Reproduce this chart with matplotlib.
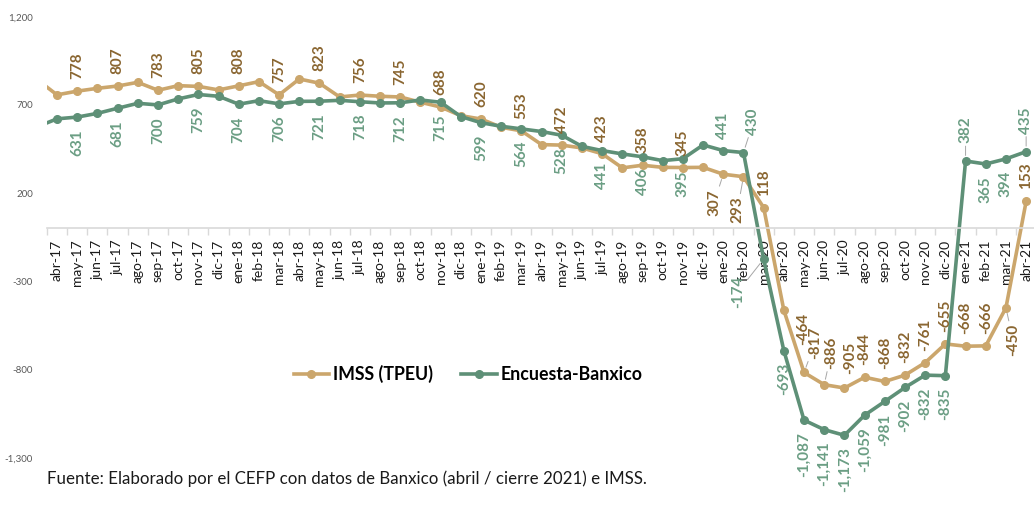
import matplotlib
matplotlib.use("Agg")
import matplotlib.pyplot as plt
from matplotlib.ticker import FuncFormatter

plt.rcParams["font.family"] = ["Lato", "DejaVu Sans"]

# first entry (mar-17) lies just left of the visible window, as in the source chart
months = ["mar-17",
          "abr-17", "may-17", "jun-17", "jul-17", "ago-17", "sep-17", "oct-17", "nov-17", "dic-17",
          "ene-18", "feb-18", "mar-18", "abr-18", "may-18", "jun-18", "jul-18", "ago-18", "sep-18",
          "oct-18", "nov-18", "dic-18",
          "ene-19", "feb-19", "mar-19", "abr-19", "may-19", "jun-19", "jul-19", "ago-19", "sep-19",
          "oct-19", "nov-19", "dic-19",
          "ene-20", "feb-20", "mar-20", "abr-20", "may-20", "jun-20", "jul-20", "ago-20", "sep-20",
          "oct-20", "nov-20", "dic-20",
          "ene-21", "feb-21", "mar-21", "abr-21"]

imss = [845,
        757, 778, 794, 807, 828, 783, 809, 805, 785,
        808, 832, 757, 847, 823, 745, 756, 749, 745, 715, 688, 639,
        620, 573, 553, 475, 472, 456, 423, 343, 358, 346, 345, 346,
        307, 293, 118, -464, -817, -886, -905, -844, -868, -832, -761, -655,
        -668, -666, -450, 153]

banxico = [575,
           621, 631, 652, 681, 709, 700, 734, 759, 749,
           704, 724, 706, 720, 721, 726, 718, 711, 712, 728, 715, 634,
           599, 579, 564, 549, 528, 465, 441, 422, 406, 384, 395, 473,
           441, 430, -174, -693, -1087, -1141, -1173, -1059, -981, -902, -832, -835,
           382, 365, 394, 435]

tan = "#CBA66C"
tan_txt = "#8A6631"
green = "#5E9077"
green_txt = "#6B9E84"

x = list(range(len(months)))

fig = plt.figure(figsize=(10.34, 5.27), dpi=100)
ax = fig.add_axes([0.04536, 0.1315, 0.9568, 0.8368])

ax.plot(x, imss, "-o", color=tan, lw=2.6, ms=5.5, label="IMSS (TPEU)")
ax.plot(x, banxico, "-o", color=green, lw=2.6, ms=5.5, label="Encuesta-Banxico")

ax.set_xlim(0.5, 49.5)
ax.set_ylim(-1300, 1200)

# labelled points: every other month until nov-19, then every month
labelled = list(range(2, 34, 2)) + list(range(34, 50))

# special placements: index -> (dx, dy, leader) in pixels, centre of text
tan_special = {34: (-9, -28, True), 35: (-6, -33, True), 37: (19, -19, False),
               38: (11, 30, True), 39: (7, 32, True), 40: (6, 30, False),
               48: (7, -32, True)}
green_special = {35: (10, 31, True), 36: (-26, -33, True), 46: (0, 31, True), 49: (0, 31, True)}
green_above = {34}


def fmt(v):
    return f"{v:,.0f}"


def put_labels(vals, color, special, default_up, above_set=()):
    for i in labelled:
        v = vals[i]
        if i in special:
            dx, dy, leader = special[i]
            ap = dict(arrowstyle="-", color="#A6A6A6", lw=0.7, shrinkA=0, shrinkB=4) if leader else None
            ax.annotate(fmt(v), (x[i], v), xytext=(dx, dy), textcoords="offset pixels",
                        rotation=90, fontsize=11, fontweight="bold", color=color,
                        arrowprops=ap, ha="center", va="center")
            continue
        up = default_up or i in above_set
        ax.annotate(fmt(v), (x[i], v), xytext=(0, 12 if up else -12), textcoords="offset pixels",
                    rotation=90, fontsize=11, fontweight="bold", color=color,
                    ha="center", va="bottom" if up else "top")


put_labels(imss, tan_txt, tan_special, True)
put_labels(banxico, green_txt, green_special, False, above_set=green_above)

# axes styling
for s in ["top", "right", "left"]:
    ax.spines[s].set_visible(False)
ax.spines["bottom"].set_position(("data", 0))
ax.spines["bottom"].set_color("#D9D9D9")
ax.spines["bottom"].set_linewidth(1.2)

ax.set_xticks(x[1:])
ax.set_xticklabels(months[1:], rotation=90, fontsize=10, color="#1A1A1A")
ax.set_xticks([i + 0.5 for i in range(0, 50)], minor=True)
ax.tick_params(axis="x", which="major", length=0, pad=8)
ax.tick_params(axis="x", which="minor", length=5, color="#D9D9D9", width=1)

ax.set_yticks([-1300, -800, -300, 200, 700, 1200])
ax.yaxis.set_major_formatter(FuncFormatter(lambda v, p: f"{v:,.0f}"))
ax.tick_params(axis="y", length=0, labelsize=7, labelcolor="#595959", pad=10)

ax.legend(loc="center", bbox_to_anchor=(0.4255, 0.19), ncol=2, frameon=False,
          handlelength=2.0, columnspacing=1.6, handletextpad=0.2,
          prop={"weight": "bold", "size": 12.8})

fig.text(47 / 1034, 1 - 479 / 527,
         "Fuente: Elaborado por el CEFP con datos de Banxico (abril / cierre 2021) e IMSS.",
         fontsize=12.2, color="#1A1A1A", va="center", ha="left")

fig.savefig("out.png", dpi=100)
